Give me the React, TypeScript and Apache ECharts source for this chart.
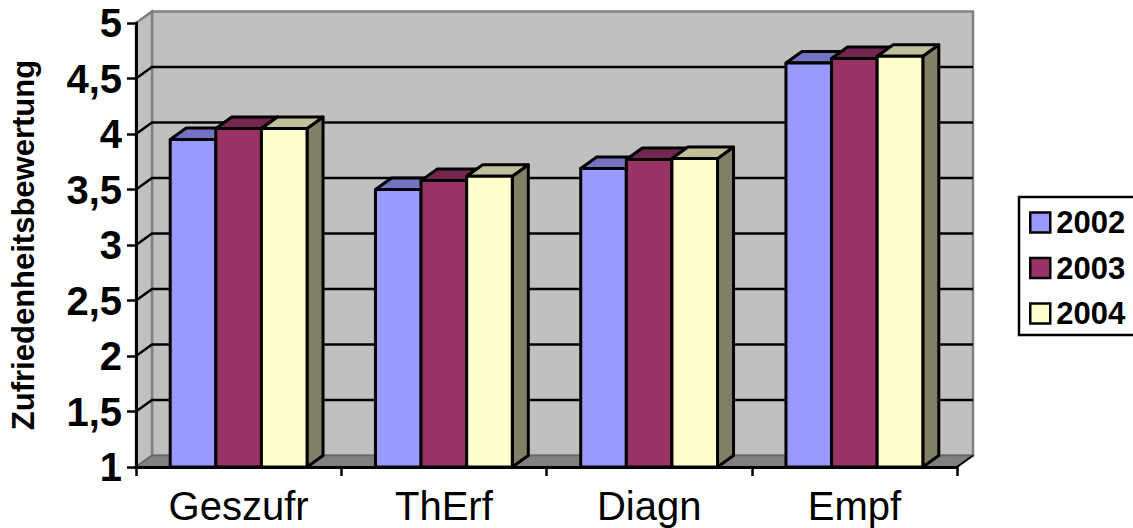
import React, { useEffect, useRef } from "react";
import * as echarts from "echarts";

const categories = ["Geszufr", "ThErf", "Diagn", "Empf"];
const yearNames = ["2002", "2003", "2004"];
const values2002 = [3.95, 3.5, 3.69, 4.64];
const values2003 = [4.05, 3.58, 3.77, 4.68];
const values2004 = [4.05, 3.62, 3.78, 4.7];
const gridValues = [1.5, 2, 2.5, 3, 3.5, 4, 4.5];

const FONT = "Liberation Sans";
const DX = 16;
const DY = -11.5;
const FRONT = ["#9999FF", "#993366", "#FFFFCC"];
const TOP = ["#7373BF", "#732650", "#BFBF99"];
const SIDE = ["#73739F", "#4D1A33", "#808066"];

function barRender(seriesIndex: number) {
  return (_p: any, api: any) => {
    const band = api.size([1, 0])[0];
    const w = (band * 2) / 3 / 3;
    const top = api.coord([api.value(0), api.value(1)]);
    const base = api.coord([api.value(0), 1]);
    const x0 = top[0] - 1.5 * w + seriesIndex * w;
    const x1 = x0 + w;
    const yt = top[1];
    const yb = base[1];
    const common = { stroke: "#000", lineWidth: 3, lineJoin: "round" };
    return {
      type: "group",
      children: [
        {
          type: "polygon",
          shape: { points: [[x1, yb], [x1 + DX, yb + DY], [x1 + DX, yt + DY], [x1, yt]] },
          style: { fill: SIDE[seriesIndex], ...common },
        },
        {
          type: "polygon",
          shape: { points: [[x0, yt], [x0 + DX, yt + DY], [x1 + DX, yt + DY], [x1, yt]] },
          style: { fill: TOP[seriesIndex], ...common },
        },
        {
          type: "polygon",
          shape: { points: [[x0, yb], [x0, yt], [x1, yt], [x1, yb]] },
          style: { fill: FRONT[seriesIndex], ...common },
        },
      ],
    };
  };
}

function wallRender(params: any, api: any) {
  const c = params.coordSys;
  const l = c.x;
  const r = c.x + c.width;
  const t = c.y;
  const b = c.y + c.height;
  const gray = "#808080";
  const children: any[] = [
    {
      type: "polygon",
      shape: { points: [[l + DX, t + DY], [r + DX, t + DY], [r + DX, b + DY], [l + DX, b + DY]] },
      style: { fill: "#C0C0C0", stroke: gray, lineWidth: 2.5 },
    },
    {
      type: "polygon",
      shape: { points: [[l, t], [l + DX, t + DY], [l + DX, b + DY], [l, b]] },
      style: { fill: "#C0C0C0", stroke: gray, lineWidth: 2.5 },
    },
    {
      type: "polygon",
      shape: { points: [[l, b], [l + DX, b + DY], [r + DX, b + DY], [r, b]] },
      style: { fill: gray, stroke: "#666", lineWidth: 1.5 },
    },
    {
      type: "line",
      shape: { x1: r, y1: b, x2: r + DX, y2: b + DY },
      style: { stroke: "#000", lineWidth: 2 },
    },
  ];
  gridValues.forEach((v) => {
    const y = api.coord([0, v])[1];
    children.push({
      type: "polyline",
      shape: { points: [[l, y], [l + DX, y + DY], [r + DX, y + DY]] },
      style: { stroke: "#000", lineWidth: 2.5, fill: "none" },
    });
  });
  return { type: "group", children };
}

const seriesValues = [values2002, values2003, values2004];

export default function App() {
  const ref = useRef<HTMLDivElement>(null);
  useEffect(() => {
    const chart = echarts.init(ref.current!, null, { renderer: "svg" });
    chart.setOption({
      animation: false,
      backgroundColor: "#fff",
      grid: { left: 136, right: 176, top: 23, bottom: 61, containLabel: false, outerBoundsMode: "none" },
      legend: {
        orient: "vertical",
        left: 1019,
        top: 197,
        padding: [10, 16, 6, 10],
        itemWidth: 20,
        itemHeight: 20,
        itemGap: 14.5,
        backgroundColor: "#fff",
        borderColor: "#000",
        borderWidth: 2.5,
        borderRadius: 0,
        selectedMode: false,
        data: yearNames.map((name, i) => ({
          name,
          icon: "rect",
          itemStyle: { color: FRONT[i], borderColor: "#000", borderWidth: 2.5 },
        })),
        textStyle: { fontFamily: FONT, fontWeight: "bold", fontSize: 31, color: "#000", padding: [0, 0, 0, 1] },
      },
      xAxis: {
        type: "category",
        data: categories,
        z: 5,
        axisLine: { lineStyle: { color: "#000", width: 3 } },
        axisTick: { show: true, length: 9, lineStyle: { color: "#000", width: 2.5 } },
        axisLabel: { fontFamily: FONT, fontSize: 40, lineHeight: 40, color: "#000", margin: 19 },
      },
      yAxis: {
        type: "value",
        min: 1,
        max: 5,
        interval: 0.5,
        z: 5,
        name: "Zufriedenheitsbewertung",
        nameLocation: "middle",
        nameRotate: 90,
        nameGap: 97,
        nameTextStyle: { fontFamily: FONT, fontWeight: "bold", fontSize: 31, color: "#000" },
        splitLine: { show: false },
        axisLine: { show: true, lineStyle: { color: "#000", width: 3 } },
        axisTick: { show: true, length: 9, lineStyle: { color: "#000", width: 2.5 } },
        axisLabel: {
          fontFamily: FONT,
          fontWeight: "bold",
          fontSize: 40,
          color: "#000",
          margin: 14,
          formatter: (v: number) => String(v).replace(".", ","),
        },
      },
      series: [
        {
          type: "custom",
          name: "walls",
          silent: true,
          z: 1,
          renderItem: wallRender,
          data: [[0, 1]],
          encode: { x: 0, y: 1 },
        },
        ...yearNames.map((name, i) => ({
          type: "custom",
          name,
          silent: true,
          z: 2 + i,
          renderItem: barRender(i),
          itemStyle: { color: FRONT[i] },
          data: seriesValues[i].map((v, k) => [k, v]),
          encode: { x: 0, y: 1 },
        })),
      ],
    });
    return () => chart.dispose();
  }, []);
  return <div ref={ref} style={{ position: "fixed", left: 0, top: 0, width: 1133, height: 528 }} />;
}
